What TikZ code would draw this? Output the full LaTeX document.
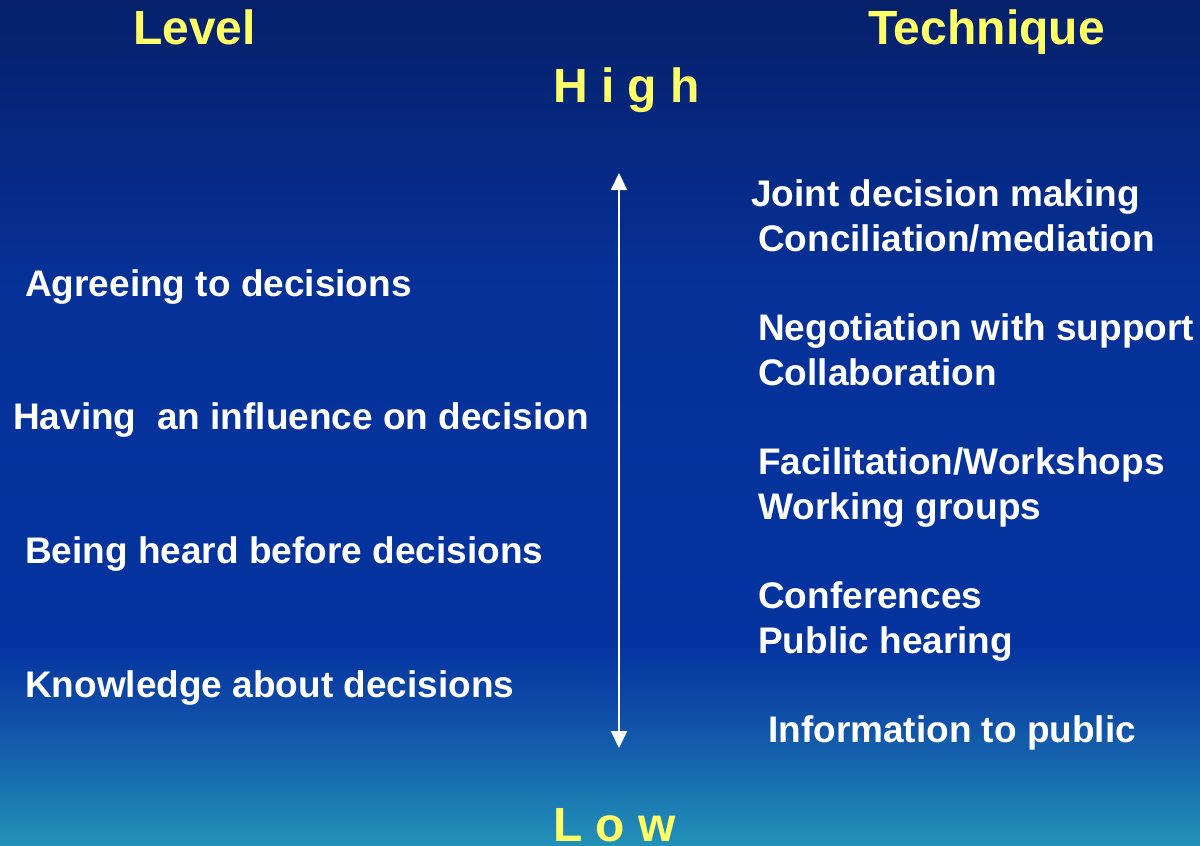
\documentclass[tikz,border=0pt]{standalone}
\usepackage{xcolor}
\usepackage{fontspec}
\setmainfont{Liberation Sans}
\usetikzlibrary{arrows.meta}

\definecolor{bgtop}{HTML}{06206A}
\definecolor{bgmid}{HTML}{0534A0}
\definecolor{bglow}{HTML}{1050A8}
\definecolor{bgteal}{HTML}{2292B8}
\definecolor{hiyellow}{HTML}{FFFF66}

% slide background, dark navy on top fading to teal at the foot
% (only the band 25bp..75bp ends up inside the rectangle)
\pgfdeclareverticalshading{slidebg}{100bp}{color(0bp)=(bgteal); color(25bp)=(bgteal); color(32.4bp)=(bglow); color(36.8bp)=(bgmid); color(58bp)=(bgmid!85!bgtop); color(75bp)=(bgtop); color(100bp)=(bgtop)}

\begin{document}
\begin{tikzpicture}[x=1pt, y=-1pt,
    every node/.style={inner sep=0pt, anchor=base west},
    head/.style={text=hiyellow, font=\bfseries\fontsize{48}{56}\selectfont},
    item/.style={text=white, font=\bfseries\fontsize{37}{44}\selectfont}]
  \useasboundingbox (0,0) rectangle (1200,846);
  \shade[shading=slidebg] (0,0) rectangle (1200,846);

  \node[head] (level) at (133,44) {Level};
  \node[head] (technique) at (868,44) {Technique};
  \node[head] (high) at (553,102) {H i g h};
  \node[head] (low) at (553,841) {L o w};

  % levels of participation
  \node[item] (agree) at (25,296) {Agreeing to decisions};
  \node[item] (influence) at (13,429) {Having~ an influence on decision};
  \node[item] (heard) at (25,563) {Being heard before decisions};
  \node[item] (knowledge) at (25,697) {Knowledge about decisions};

  % matching techniques
  \node[item] (joint) at (751,206) {Joint decision making};
  \node[item] (concil) at (758,251) {Conciliation/mediation};
  \node[item] (negot) at (758,340) {Negotiation with support};
  \node[item] (collab) at (758,385) {Collaboration};
  \node[item] (facil) at (758,474) {Facilitation/Workshops};
  \node[item] (groups) at (758,519) {Working groups};
  \node[item] (confer) at (758,608) {Conferences};
  \node[item] (hearing) at (758,653) {Public hearing};
  \node[item] (inform) at (768,742) {Information to public};

  \coordinate (top) at (619,173);
  \coordinate (bottom) at (619,748);
  \draw[white, line width=2pt, {Triangle[width=16pt,length=17pt]}-{Triangle[width=16pt,length=17pt]}] (top) -- (bottom);
\end{tikzpicture}
\end{document}
